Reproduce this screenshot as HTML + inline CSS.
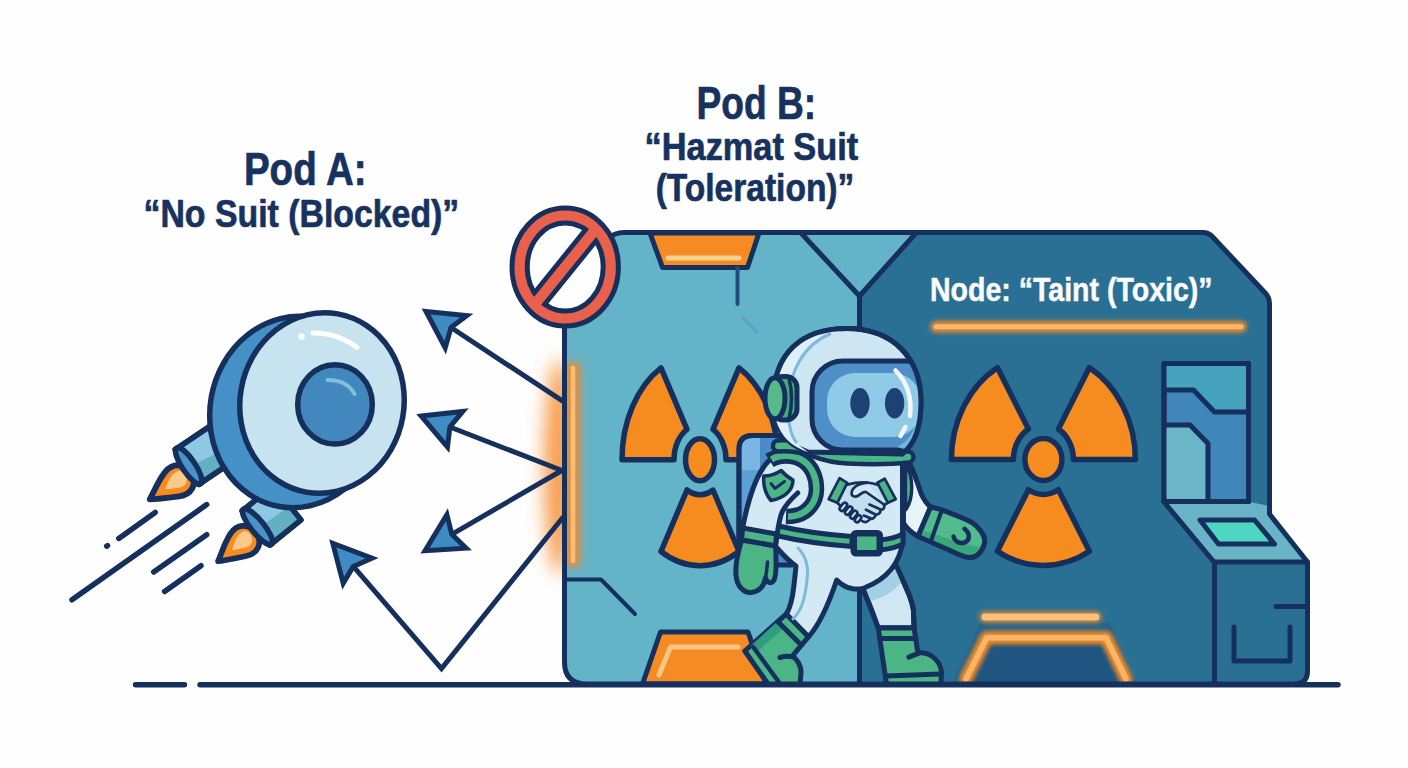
<!DOCTYPE html>
<html><head><meta charset="utf-8"><title>Taints and Tolerations</title>
<style>
html,body{margin:0;padding:0;background:#fefefe;}
svg{display:block}
text{font-family:"Liberation Sans",sans-serif;font-weight:bold}
</style></head>
<body>
<svg width="1408" height="768" viewBox="0 0 1408 768">
<defs>
  <filter id="glow" filterUnits="userSpaceOnUse" x="0" y="0" width="1408" height="768"><feGaussianBlur stdDeviation="2.3"/></filter>
  <filter id="glowBig" filterUnits="userSpaceOnUse" x="0" y="0" width="1408" height="768"><feGaussianBlur stdDeviation="9"/></filter>
  <filter id="soft" filterUnits="userSpaceOnUse" x="0" y="0" width="1408" height="768"><feGaussianBlur stdDeviation="6"/></filter>
  <clipPath id="panelClip"><path d="M564.5 320 L598 262 Q603 232.5 624 232.5 L1203 232.5 Q1208.5 232.5 1212.5 236.8 L1265.5 293.2 Q1269.5 297.5 1269.5 303.5 L1269.5 514 L1307.5 562 L1307.5 671 Q1307.5 684 1294 684 L587 684 Q564.5 684 564.5 662 Z"/></clipPath>
</defs>
<rect width="1408" height="768" fill="#fefefe"/>

<!-- ===== TITLES ===== -->
<g fill="#17325f" stroke="#17325f" stroke-width="0.7" stroke-linejoin="round" text-anchor="middle">
<text id="t1" x="305.3" y="184.6" font-size="46" textLength="122.8" lengthAdjust="spacingAndGlyphs">Pod A:</text>
<text id="t2" x="301.4" y="226.6" font-size="39" textLength="315.8" lengthAdjust="spacingAndGlyphs">“No Suit (Blocked)”</text>
<text id="t3" x="756.3" y="119" font-size="46" textLength="119.5" lengthAdjust="spacingAndGlyphs">Pod B:</text>
<text id="t4" x="751.4" y="160.4" font-size="38" textLength="213.6" lengthAdjust="spacingAndGlyphs">“Hazmat Suit</text>
<text id="t5" x="755" y="201.4" font-size="38" textLength="198.6" lengthAdjust="spacingAndGlyphs">(Toleration)”</text>
</g>

<!-- ===== GROUND ===== -->
<g stroke="#16305e" stroke-width="5.5" stroke-linecap="round" fill="none">
<path d="M135.5 684.8 H184.5"/><path d="M200 684.8 H1338"/>
</g>

<!-- ===== LEFT GLOW ===== -->
<ellipse cx="559" cy="467" rx="15" ry="108" fill="#f7923a" opacity="0.9" filter="url(#glowBig)"/>

<!-- ===== PANEL ===== -->
<g id="panel">
<path d="M564.5 320 L598 262 Q603 232.5 624 232.5 L1203 232.5 Q1208.5 232.5 1212.5 236.8 L1265.5 293.2 Q1269.5 297.5 1269.5 303.5 L1269.5 514 L1307.5 562 L1307.5 671 Q1307.5 684 1294 684 L587 684 Q564.5 684 564.5 662 Z" fill="#2a7095"/>
<path d="M564.5 320 L598 262 Q603 232.5 624 232.5 L916 232.5 L859.5 296 L859.5 684 L587 684 Q564.5 684 564.5 662 Z" fill="#64b4c9"/>
<g clip-path="url(#panelClip)">
  <!-- inner left glow -->
  <rect x="562" y="362" width="20" height="205" fill="#f08a30" opacity="0.5" filter="url(#soft)"/>
</g>
<!-- V lines & divider -->
<g stroke="#16305e" stroke-width="5" fill="none" stroke-linejoin="round" stroke-linecap="round">
  <path d="M801 233 L859.5 296 L916 233"/>
  <path d="M859.5 296 V684"/>
</g>
<!-- top orange trapezoid -->
<path d="M650 233 L759 233 L747.5 267.5 L662.5 267.5 Z" fill="#f58b22" stroke="#16305e" stroke-width="5" stroke-linejoin="round"/>
<path d="M668 258 H739" stroke="#fbd08e" stroke-width="5" stroke-linecap="round"/>
<path d="M737.5 268 V304" stroke="#1e4f80" stroke-width="4" stroke-linecap="round"/>
<path d="M743 318 L757 332" stroke="#5a9fc8" stroke-width="3.5" stroke-linecap="round" opacity="0.8"/>
<!-- left line -->
<path d="M565 579.5 H601 L635 614" stroke="#16305e" stroke-width="4" fill="none" stroke-linecap="round" stroke-linejoin="round"/>
<!-- left glow bar -->
<path d="M573 368 V561" stroke="#f58b22" stroke-width="10.5" stroke-linecap="round" opacity="0.85" filter="url(#glow)"/>
<path d="M573 368 V561" stroke="#fbbd76" stroke-width="4.6" stroke-linecap="round"/>
<!-- bottom orange trapezoid -->
<path d="M642.5 684 L660.5 632 L748 632 L766 684 Z" fill="#f58b22" stroke="#16305e" stroke-width="5" stroke-linejoin="round"/>
<path d="M659 675 L670.5 647 H738" stroke="#fbc583" stroke-width="5" fill="none" stroke-linecap="round" stroke-linejoin="round"/>

<!-- LEFT TREFOIL -->
<g fill="#f68c1f" stroke="#16305e" stroke-width="5.5" stroke-linejoin="round">
<path d="M687.0 429.4 L661.0 367.9 A78 106 0 0 0 622.0 459.7 L674.0 459.7 A26 35 0 0 1 687.0 429.4 Z"/>
<path d="M726.0 459.7 L778.0 459.7 A78 106 0 0 0 739.0 367.9 L713.0 429.4 A26 35 0 0 1 726.0 459.7 Z"/>
<path d="M687.0 490.0 L661.0 551.5 A78 106 0 0 0 739.0 551.5 L713.0 490.0 A26 35 0 0 1 687.0 490.0 Z"/>
<ellipse cx="700" cy="459.7" rx="14.5" ry="21"/>
</g>
<!-- RIGHT TREFOIL -->
<g fill="#f68c1f" stroke="#16305e" stroke-width="5.5" stroke-linejoin="round">
<path d="M1028.4 429.1 L997.4 367.6 A92 106 0 0 0 951.4 459.4 L1013.4 459.4 A30 35 0 0 1 1028.4 429.1 Z"/>
<path d="M1073.4 459.4 L1135.4 459.4 A92 106 0 0 0 1089.4 367.6 L1058.4 429.1 A30 35 0 0 1 1073.4 459.4 Z"/>
<path d="M1028.4 489.7 L997.4 551.2 A92 106 0 0 0 1089.4 551.2 L1058.4 489.7 A30 35 0 0 1 1028.4 489.7 Z"/>
<ellipse cx="1043.4" cy="459.4" rx="18.5" ry="21"/>
</g>

<!-- NODE LABEL -->
<text id="t6" x="930" y="301.3" font-size="34" fill="#fbfbf9" stroke="#fbfbf9" stroke-width="0.5" textLength="282.6" lengthAdjust="spacingAndGlyphs">Node: “Taint (Toxic)”</text>
<path d="M936 326.8 H1241" stroke="#f58b22" stroke-width="11.5" stroke-linecap="round" opacity="0.95" filter="url(#glow)"/>
<path d="M936 326.8 H1241" stroke="#fcb66e" stroke-width="5" stroke-linecap="round"/>

<!-- bottom glow trapezoid -->
<path d="M980 623 H1110 L1137 684 H952 Z" fill="#285f85" opacity="0.7"/>
<path d="M986.7 637.7 H1106 L1127 684 H965 Z" fill="#1f5580"/>
<g fill="none" stroke-linecap="round" stroke-linejoin="round" clip-path="url(#panelClip)">
<path d="M985 617 H1096" stroke="#f58b22" stroke-width="12" opacity="0.75" filter="url(#glow)"/>
<path d="M985 617 H1096" stroke="#fbc17c" stroke-width="7"/>
<path d="M966 679 L986.7 637.7 H1106 L1126 679" stroke="#f58b22" stroke-width="13" opacity="1" filter="url(#glow)"/>
<path d="M966 679 L986.7 637.7 H1106 L1126 679" stroke="#fbb468" stroke-width="5.6"/>
</g>

<!-- CONSOLE -->
<path d="M1164 502 L1250 502 L1269.5 506 L1269.5 514 L1307.5 562 L1214 562 Z" fill="#68b3c6"/>
<g stroke="#16305e" stroke-width="5" stroke-linejoin="round" stroke-linecap="round" fill="none">
  <rect x="1164" y="363.5" width="84.5" height="138" fill="#3f86bb"/>
</g>
<path d="M1164 363.5 H1248.5 V412 H1214.5 L1193.5 390 H1164 Z" fill="#46a3be"/>
<path d="M1164 425 H1190 L1208 443.5 V501.5 H1164 Z" fill="#6ab6c7"/>
<g stroke="#16305e" stroke-width="5" stroke-linejoin="round" stroke-linecap="round" fill="none">
  <path d="M1164 390 H1193.5 L1214.5 412 H1248.5"/>
  <path d="M1164 425 H1190 L1208 443.5 V501.5"/>
  <rect x="1164" y="363.5" width="84.5" height="138"/>
  <path d="M1164 502 L1214 562 H1307.5"/>
  <path d="M1214.5 562 V684"/>
  <path d="M1200 520 H1254.5 L1274.5 544 H1218.5 Z" fill="#4fd6c0"/>
  <path d="M1276 606.5 H1307"/>
  <path d="M1234 627 V661 H1290 V627"/>
</g>
<!-- panel outline -->
<path d="M564.5 320 L598 262 Q603 232.5 624 232.5 L1203 232.5 Q1208.5 232.5 1212.5 236.8 L1265.5 293.2 Q1269.5 297.5 1269.5 303.5 L1269.5 514 L1307.5 562 L1307.5 671 Q1307.5 684 1294 684 L587 684 Q564.5 684 564.5 662 Z" fill="none" stroke="#16305e" stroke-width="5" stroke-linejoin="round"/>
</g>

<!-- ===== ASTRONAUT ===== -->
<g id="astro" stroke="#16305e" stroke-width="5" stroke-linejoin="round" stroke-linecap="round">
<!-- backpack -->
<path d="M739 565 V449 Q739 435.5 753 435.5 H792 V565 Z" fill="#4a8cc8"/>
<path d="M741.5 449 Q741.5 438 753 438 H760 V470 H741.5 Z" fill="#7ab6e2" stroke="none"/>
<path d="M741.5 470 H760 V520 H741.5 Z" fill="#5a9fd6" stroke="none"/>
<path d="M739 565 V449 Q739 435.5 753 435.5 H792" fill="none"/>

<!-- right (far) leg -->
<path d="M862 586 L871.5 610 L878.2 628 H914.1 L913.4 610 C912 600 908 592 896 565 Z" fill="#cfe7f2"/>
<path d="M864 589 C882 583 893 574 897 566 L903 580 C896 590 884 598 870 601 Z" fill="#9ccbe3" stroke="none" opacity="0.85"/>
<path d="M862 586 L871.5 610 L878.2 628 H914.1 L913.4 610 C912 600 908 592 896 565" fill="none"/>
<!-- right boot -->
<path d="M878.2 628 H914.1 L917.9 653 C928 651 940 659 941.5 672 L941 684 H886.5 Z" fill="#4cb585"/>
<path d="M879.8 638.4 H915.8" fill="none"/>
<path d="M886 676 L940.8 674" fill="none"/>
<path d="M908.9 657.1 C912 656 915 654.5 918.5 653.3" fill="none"/>

<!-- left (near) leg -->
<!-- left boot -->
<path d="M786.4 613.9 L808.6 636.7 L792.3 656.2 C797 659 801.5 666 801 673 L800 684 H768 L744.8 651 Z" fill="#4cb585"/>
<path d="M779 620 L785.5 626.5 L757 652 L750.5 646 Z" fill="#2f9d80" stroke="none"/>
<path d="M778 621.7 L800 643.8" fill="none"/>
<path d="M753.2 647 L779.5 683" fill="none" stroke-width="4.5"/>
<path d="M780 657.5 C784 656.3 788 656 792.3 656.8" fill="none"/>

<!-- torso -->
<path d="M780 455 C760 470 745 500 744 532 C744 545 765 546 777 548 C784 556 790 562 796 566 C794 585 793 603 786.4 613.9 L808.6 636.7 C820 624 828 606 836.7 580 C846 590 858 590 864 588 C885 580 900 565 903 540 L903 462 Q880 452 840 452 Z" fill="#d3eaf4"/>
<path d="M798 548 C806 556 809 566 807 580 C805 598 802 610 793 619" fill="none" stroke="#7db9dd" stroke-width="3"/>
<!-- right arm -->
<path d="M907 459 C913 468 916 479 921.3 494 C924 500 927 504 930.6 507 L918 536.5 C912 533 907 529 903.5 523 L903 462 Z" fill="#e6f3f9"/>
<path d="M905.5 465 C913.5 474 914 499 905.5 510 Z" fill="#4cb585" stroke-width="3.5"/>
<path d="M930.6 507 L940.8 509.4 C950 513 958 516 966 519.5 C973 522.5 977 526 979.7 529.7 C984 535 985.5 541 984 545 C982 552 976 558 969.5 557.6 C962 557 955 553 949 550 L918 536.5 Z" fill="#52bb8b" stroke="none"/>
<path d="M924 531 C945 537 965 546 983.5 547 C980 555 974 558 969.5 557.6 C962 557 955 553 949 550 L918 536.5 Z" fill="#3aa67a" stroke="none"/>
<path d="M930.6 507 L940.8 509.4 C950 513 958 516 966 519.5 C973 522.5 977 526 979.7 529.7 C984 535 985.5 541 984 545 C982 552 976 558 969.5 557.6 C962 557 955 553 949 550 L918 536.5 Z" fill="none"/>
<path d="M941.5 511 L930.8 541.5" fill="none" stroke-width="4"/>
<path d="M953.5 536.5 C955 542 960 544 964.5 542.5 C969.5 541 971 534 964.5 528.8" fill="none" stroke-width="4.5"/>
<path d="M902.5 464 V540" fill="none"/>

<!-- belt -->
<path d="M776 525.5 C800 531 830 535 852 536.5 V546.5 C830 545 800 541 776 535.5 Z" fill="#4cb585"/>
<path d="M880 540 C890 539 897 537 903 534 V544 C897 547 890 549 880 550 Z" fill="#4cb585"/>
<rect x="853" y="532.5" width="27.5" height="21.5" rx="3" fill="#16305e"/>
<rect x="857" y="536.5" width="19.5" height="13.5" fill="#4cb585" stroke="none"/>

<!-- left arm -->
<path d="M769.5 460 C757 472 748 500 742.6 528 L776 534 C777 522 780 512 786 505 L800 495 L806 470 L790 456 Z" fill="#d3eaf4" stroke="none"/>
<path d="M769.5 460 C757 472 748 500 742.6 528" fill="none"/>
<!-- shoulder ring -->
<path d="M769.5 460.5 C778 455 792 454 802 460 C812 466 817 478 816.4 490.6 C816 502 808 512 797.7 515 C793 516.5 789 516.5 786 516.4" fill="none" stroke-width="15.5" stroke-linecap="butt"/>
<path d="M771.5 459.5 C779 455 792 454 802 460 C812 466 817 478 816.4 490.6 C816 502 808 512 797.7 515 C793 516.5 790 516.5 788 516.4" fill="none" stroke="#4cb585" stroke-width="6.5" stroke-linecap="butt"/>
<path d="M797.7 493 C790 500 783.6 507 781 515 C778 525 776.5 538 775 550" fill="none"/>
<!-- cuff + glove -->
<path d="M742.6 528 L776.5 534 L775.5 546 L741.6 540 Z" fill="#4cb585"/>
<path d="M741.6 540 C738 552 735 565 736 575 C737 588 745 593 751 592.6 C758 592 764 587 765.5 578 C767 583 771 584 773.5 581 C776.5 577 776.5 562 775.5 546 Z" fill="#4cb585"/>
<path d="M767.5 562 C767 568 766.5 573 765.5 578" fill="none" stroke-width="3.5"/>

<!-- collar -->
<path d="M778.4 446 C795 445 805 448 814 451 C826 455.5 835 457.5 848 458 C870 459 890 459 908 457" fill="none" stroke-width="15.5"/>
<path d="M778.4 446 C795 445 805 448 814 451 C826 455.5 835 457.5 848 458 C870 459 890 459 908 457" fill="none" stroke="#4cb585" stroke-width="6.5"/>

<!-- helmet -->
<clipPath id="helmClip"><path d="M773.5 400 C773.5 353 802 328.5 847 328.5 C892 328.5 921 357 921 402 C921 428 914 445 902 454 L808 452 C784 444 773.5 426 773.5 400 Z"/></clipPath>
<path d="M773.5 400 C773.5 353 802 328.5 847 328.5 C892 328.5 921 357 921 402 C921 428 914 445 902 454 L808 452 C784 444 773.5 426 773.5 400 Z" fill="#cde6f2"/>
<path d="M773.5 405 C773.5 354 802 328.5 847 328.5 L835 333 C805 345 790 370 789 405 C789 425 793 438 800 446 L808 452 C784 444 773.5 426 773.5 400 Z" fill="#dff0f8" stroke="none"/>
<path d="M830 334 C803 345 789 372 788 405 C788 423 790 434 796 442" fill="none" stroke="#7db9dd" stroke-width="3"/>
<g clip-path="url(#helmClip)">
  <rect x="812" y="361" width="125" height="89" rx="31" fill="#4e8fc8"/>
  <rect x="827" y="373" width="94" height="64" rx="28" fill="#8fcbe6" stroke="none"/>
  <path d="M897 447 Q912 440 917 420 L925 430 L915 452 Z" fill="#7fc0e0" stroke="none" opacity="0.8"/>
</g>
<path d="M773.5 400 C773.5 353 802 328.5 847 328.5 C892 328.5 921 357 921 402 C921 428 914 445 902 454" fill="none"/>
<ellipse cx="860" cy="403.3" rx="9.7" ry="15.2" fill="#1e4173" stroke="none"/>
<ellipse cx="894.6" cy="403.3" rx="9.7" ry="15.2" fill="#1e4173" stroke="none"/>
<path d="M895.5 370.5 C908 383 912 398 910 416" fill="none" stroke="#f4f8fa" stroke-width="4.5"/>
<path d="M905.5 427 L900.5 436" fill="none" stroke="#f4f8fa" stroke-width="4.5"/>
<!-- ear -->
<rect x="772" y="376.5" width="25" height="43.5" rx="11" fill="#3fae7b"/>
<path d="M789 378 Q794 398 789 419" fill="none" stroke-width="3.5"/>
<ellipse cx="775" cy="398.3" rx="10" ry="20.5" fill="#55b98a"/>

<!-- shield badge -->
<path d="M763.7 476 C770 476 776 474 781.2 470.5 C785 475 789 478 793 480 C793 490 785 498 771 500.5 C765.5 494 763 486 763.7 476 Z" fill="#4cb585" stroke-width="3.5"/>
<path d="M771 483.5 L775 488.5 L784.5 481.5" fill="none" stroke-width="3"/>

<!-- handshake -->
<g stroke-width="2.7">
<path d="M847.3 484.6 L867 482.5 L877.4 484.6 L887.9 502.8 L884 507 L870 520 L862 522 L857 521 L840 507 L837.3 502.8 Z" fill="#c0e0ee" stroke="none"/>
<path d="M839.6 478.2 L847.3 482.8 L837.3 502.8 L828.7 499.2 Z" fill="#4cb585"/>
<path d="M877.4 482.8 L884.7 478.7 L895.7 499.2 L887.9 502.8 Z" fill="#4cb585"/>
<path d="M847.3 484.6 C853 483 860 482 867.4 482.5 C871 483 874 483.5 877.4 484.6" fill="none"/>
<path d="M867.4 482.8 C862 483 858 484.5 855.5 486.5 C852.5 489 851 491.5 851.7 494.5 C852.5 497 856 497 858.5 495.5 C861 494 863 491.5 866 492 L884 504.5" fill="#d3eaf4"/>
<path d="M887.9 502.8 L884 505 C885 508 883 510 880.5 509.5 C881 513 878 515 875.5 514.5 C875.5 518 872 519.5 870 518.5 C869 522 865 523 862 521" fill="none"/>
<path d="M869.5 504.5 L879.5 509" fill="none"/><path d="M866 509.7 L875 514.3" fill="none"/><path d="M863.8 515.6 L870.5 518.3" fill="none"/>
<path d="M837.3 502.8 L840.5 506" fill="none"/>
<rect x="-4.6" y="-2.3" width="9.2" height="4.6" rx="2.3" transform="translate(843.4 506.8) rotate(-52)" fill="#d3eaf4"/>
<rect x="-4.6" y="-2.3" width="9.2" height="4.6" rx="2.3" transform="translate(848.7 510.6) rotate(-52)" fill="#d3eaf4"/>
<rect x="-4.4" y="-2.3" width="8.8" height="4.6" rx="2.3" transform="translate(853.7 514.7) rotate(-52)" fill="#d3eaf4"/>
<rect x="-3.8" y="-2.3" width="7.6" height="4.6" rx="2.3" transform="translate(858 518.8) rotate(-52)" fill="#d3eaf4"/>
</g>
</g>
<!-- ===== NO SIGN ===== -->
<g id="nosign">
<clipPath id="nsClip"><ellipse cx="565.2" cy="267" rx="40.5" ry="46.5"/></clipPath>
<ellipse cx="565.2" cy="267" rx="53.2" ry="59" fill="#e9604c" stroke="#16305e" stroke-width="5"/>
<ellipse cx="565.2" cy="267" rx="38" ry="44" fill="#fefefe" stroke="#16305e" stroke-width="5"/>
<path d="M530.5 309.8 L599.7 224.2" stroke="#16305e" stroke-width="20" clip-path="url(#nsClip)"/>
<path d="M534.5 304.8 L595.7 229.2" stroke="#e9604c" stroke-width="10.5"/>
</g>


<!-- ===== ARROWS ===== -->
<g id="arrows" stroke="#16305e" stroke-width="5" stroke-linejoin="miter" stroke-miterlimit="10" stroke-linecap="round" fill="none">
<path d="M562 400.7 L451 327.5"/>
<path d="M426 311.5 L466.8 315.5 L451 327.5 L445.2 347.8 Z" fill="#3f8cc2"/>
<path d="M562 470.5 L449.9 427"/>
<path d="M421.3 416.1 L462.8 411.4 L449.9 427 L447.5 447.1 Z" fill="#3f8cc2"/>
<path d="M561 471 L451.8 534.3"/>
<path d="M425 550.7 L446.9 514.7 L451.8 534.3 L466.1 548.2 Z" fill="#3f8cc2"/>
<path d="M562.4 518 L441.5 668.6 L353.3 566.4"/>
<path d="M332.8 543.4 L372 558.2 L353.3 566.4 L343.2 583.3 Z" fill="#3f8cc2"/>
</g>

<!-- ===== POD A ===== -->
<g id="poda" stroke="#16305e" stroke-width="5.5" stroke-linejoin="round" stroke-linecap="round">
<!-- speed lines -->
<g fill="none">
<path d="M106.7 546.2 L107.5 545.6"/>
<path d="M118.8 538.4 L155.2 512.4"/>
<path d="M72 599.8 L206.7 504.6"/>
<path d="M153.7 572 L206.7 534.7"/>
<path d="M164.6 591.5 L201 565.7"/>
</g>
<!-- thruster 1 -->
<g transform="translate(187,467) rotate(146)">
  <g transform="translate(-3,-7) scale(1.08)"><path d="M2 0 C4 -13 14 -17 24 -12 C34 -7 42 -3 48 1 C40 5 32 11 22 14 C12 17 4 12 2 0 Z" fill="#f68c1f"/>
  <path d="M8 2 C9 -6 14 -8 20 -5 C25 -2.5 28 -1 31 1 C26 4 23 6.5 18 8 C12 9 8 8 8 2 Z" fill="#fbc98a" stroke="none"/></g>
  <path d="M-40 -21 L0 -21 L0 21 L-40 21 Z" fill="#8fc8e4"/>
  <path d="M-40 -6 L-6 -2 L-6 -21 L-40 -21 Z" fill="#62b0c2" stroke="none"/>
  <path d="M-40 -21 L0 -21 L0 21 L-40 21 Z" fill="none"/>
  <ellipse cx="-2" cy="0" rx="6.5" ry="21.5" fill="#4b92c8"/>
</g>
<!-- thruster 2 -->
<g transform="translate(256,528) rotate(141)">
  <g transform="translate(0,-3) scale(1.05)"><path d="M2 0 C4 -13 14 -17 24 -12 C34 -7 42 -3 48 1 C40 5 32 11 22 14 C12 17 4 12 2 0 Z" fill="#f68c1f"/>
  <path d="M8 2 C9 -6 14 -8 20 -5 C25 -2.5 28 -1 31 1 C26 4 23 6.5 18 8 C12 9 8 8 8 2 Z" fill="#fbc98a" stroke="none"/></g>
  <path d="M-40 -22 L0 -22 L0 22 L-40 22 Z" fill="#8fc8e4"/>
  <path d="M-40 -4 L-6 -2 L-6 -22 L-40 -22 Z" fill="#62b0c2" stroke="none"/>
  <path d="M-40 -22 L0 -22 L0 22 L-40 22 Z" fill="none"/>
  <ellipse cx="-2" cy="0" rx="6.5" ry="22.5" fill="#4b92c8"/>
</g>
<!-- back disc -->
<ellipse cx="296" cy="412" rx="86" ry="96" transform="rotate(10 296 412)" fill="#4690c8"/>
<!-- front disc -->
<ellipse cx="322" cy="403" rx="82" ry="90.5" transform="rotate(10 322 403)" fill="#c6e3ef"/>
<!-- inner circle -->
<ellipse cx="335" cy="404.4" rx="37.3" ry="39.7" fill="#4287bd"/>
<path d="M327.5 380 Q347 380 354.5 394" fill="none" stroke="#7cc0dc" stroke-width="4"/>
<path d="M313 333 Q338 333 357 347.5" fill="none" stroke="#ffffff" stroke-width="5"/>
<circle cx="301.5" cy="336.5" r="3.2" fill="#ffffff" stroke="none"/>
</g>

</svg>
</body></html>
